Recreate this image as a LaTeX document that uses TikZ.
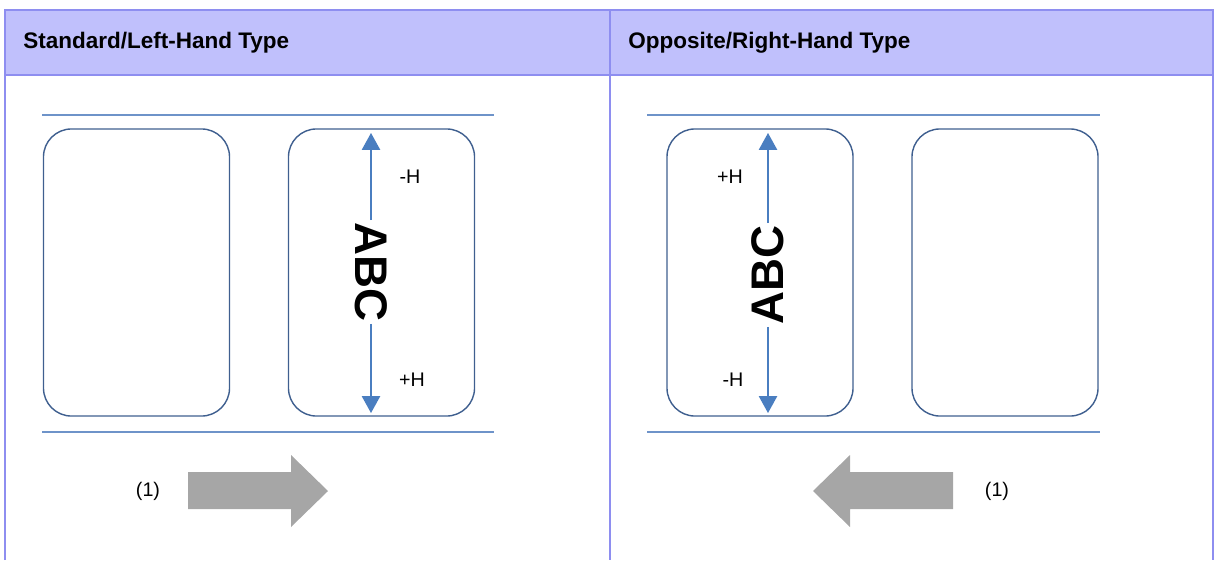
\documentclass[tikz,border=0pt]{standalone}
\usepackage{fontspec}
\setmainfont{Liberation Sans}
\usepackage{xcolor}
\usetikzlibrary{arrows.meta, positioning}
\definecolor{hdrfill}{HTML}{C0C0FC}
\definecolor{hdrline}{HTML}{8E8EF0}
\definecolor{cardline}{HTML}{3F5F8F}
\definecolor{railblue}{HTML}{6E93C9}
\definecolor{arrblue}{HTML}{4A7EC0}
\definecolor{feedgray}{HTML}{A6A6A6}

\begin{document}
\begin{tikzpicture}[x=0.025cm, y=-0.025cm,
    card/.style={draw=cardline, line width=1pt, rounded corners=0.7cm,
        minimum width=4.65cm, minimum height=7.175cm, inner sep=0pt},
    hdr/.style={font=\bfseries\fontsize{16}{18}\selectfont, anchor=west, inner sep=0pt},
    lbl/.style={font=\fontsize{14}{16}\selectfont, inner sep=0pt},
    abc/.style={font=\bfseries\fontsize{32.5}{36}\selectfont, inner sep=1.5pt},
    dim/.style={draw=arrblue, line width=1pt, -{Triangle[width=13pt, length=12pt]}},
    rail/.style={draw=railblue, line width=1.5pt},
    feed/.style={fill=feedgray}]
    \useasboundingbox (0,0) rectangle (1216,560);

    % Khung bảng
    \fill[hdrfill] (5,10) rectangle (1213,75);
    \draw[hdrline, line width=1.5pt] (5,560) -- (5,10) -- (1213,10) -- (1213,560);
    \draw[hdrline, line width=1.5pt] (5,75) -- (1213,75);
    \draw[hdrline, line width=1.5pt] (610,10) -- (610,560);
    \node[hdr] (hdrL) at (23,43) {Standard/Left-Hand Type};
    \node[hdr] (hdrR) at (628,43) {Opposite/Right-Hand Type};

    % Bên trái
    \draw[rail] (42,115) -- (494,115);
    \draw[rail] (42,432) -- (494,432);
    \node[card] (cardLa) at (136.5,272.5) {};
    \node[card] (cardLb) at (381.5,272.5) {};
    \node[abc, rotate=-90] (abcL) at (371,272) {ABC};
    \coordinate (topL) at (371,133);
    \coordinate (botL) at (371,413);
    \draw[dim] (abcL.west) -- (topL);
    \draw[dim] (abcL.east) -- (botL);
    \node[lbl] (minusL) at (410,177) {-H};
    \node[lbl] (plusL) at (412,380) {+H};
    \node[lbl] (numL) at (148,491) {(1)};
    \fill[feed] (188,472) -- (291,472) -- (291,455) -- (328,491)
        -- (291,527) -- (291,509) -- (188,509) -- cycle;

    % Bên phải
    \draw[rail] (647,115) -- (1100,115);
    \draw[rail] (647,432) -- (1100,432);
    \node[card] (cardRa) at (760,272.5) {};
    \node[card] (cardRb) at (1005,272.5) {};
    \node[abc, rotate=90] (abcR) at (768,275) {ABC};
    \coordinate (topR) at (768,133);
    \coordinate (botR) at (768,413);
    \draw[dim] (abcR.east) -- (topR);
    \draw[dim] (abcR.west) -- (botR);
    \node[lbl] (plusR) at (730,177) {+H};
    \node[lbl] (minusR) at (733,380) {-H};
    \node[lbl] (numR) at (997,491) {(1)};
    \fill[feed] (953,472) -- (850,472) -- (850,455) -- (813,491)
        -- (850,527) -- (850,509) -- (953,509) -- cycle;
\end{tikzpicture}
\end{document}
